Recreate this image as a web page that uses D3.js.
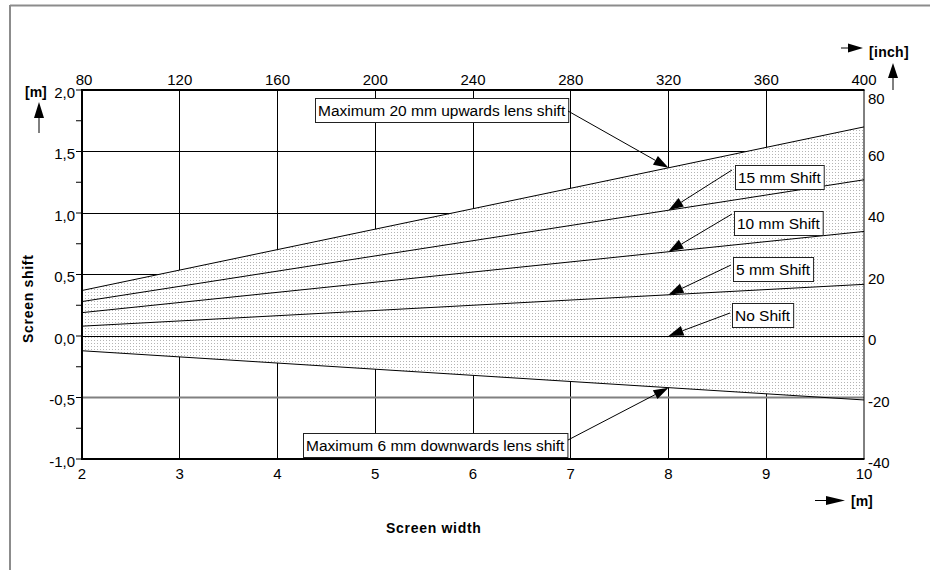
<!DOCTYPE html>
<html>
<head>
<meta charset="utf-8">
<script src="https://cdn.jsdelivr.net/npm/d3@7"></script>
<style>
  html, body { margin: 0; padding: 0; background: #fff; }
  svg { display: block; font-family: "Liberation Sans", Arial, sans-serif; }
</style>
</head>
<body>
<svg id="chart" width="930" height="570"></svg>
<script>
// ---------- data ----------
const widthsM = [2, 10];                       // screen width [m]
const up20   = [0.37, 1.70];                    // Maximum 20 mm upwards lens shift
const shift15 = [0.28, 1.27];                   // 15 mm Shift
const shift10 = [0.19, 0.85];                   // 10 mm Shift
const shift5  = [0.08, 0.42];                   // 5 mm Shift
const shift0  = [0.00, 0.00];                   // No Shift
const down6   = [-0.12, -0.52];                 // Maximum 6 mm downwards lens shift

const bottomTicks = [2, 3, 4, 5, 6, 7, 8, 9, 10];
const topTicks    = [80, 120, 160, 200, 240, 280, 320, 360, 400];
const leftTicks   = [-1.0, -0.5, 0.0, 0.5, 1.0, 1.5, 2.0];
const leftMinor   = [-0.75, -0.25, 0.25, 0.75, 1.25, 1.75];
const rightTicks  = [-40, -20, 0, 20, 40, 60, 80];
const annotLabels = ["Maximum 20 mm upwards lens shift", "15 mm Shift", "10 mm Shift", "5 mm Shift", "No Shift", "Maximum 6 mm downwards lens shift"];
const annotSeries = [up20, shift15, shift10, shift5, shift0, down6];
const annotAtX = 8;

// ---------- layout ----------
const L = 82, R = 864, T = 90, B = 459;
const svg = d3.select("#chart");
const x = d3.scaleLinear().domain([2, 10]).range([L, R]);
const y = d3.scaleLinear().domain([-1, 2]).range([B, T]);
const xIn = d3.scaleLinear().domain([80, 400]).range([L, R]);
const yIn = d3.scaleLinear().domain([-40, 80]).range([B, T]);
const fmt = d => d3.format(".1f")(d).replace(".", ",").replace("−", "-");

// box layout for annotations (pixel positions: box top-left, arrow start)
const annotLayout = [
  {bx: 315, by: 98,  sx: 568, sy: 111},
  {bx: 735, by: 165, sx: 732, sy: 170},
  {bx: 734, by: 211, sx: 732, sy: 214},
  {bx: 733, by: 257, sx: 731, sy: 265},
  {bx: 732, by: 303, sx: 730, sy: 313},
  {bx: 303, by: 433, sx: 568, sy: 440}
];

// pattern
const defs = svg.append("defs");
const pat = defs.append("pattern").attr("id", "dots").attr("width", 3).attr("height", 3)
  .attr("patternUnits", "userSpaceOnUse");
pat.append("rect").attr("width", 3).attr("height", 3).attr("fill", "#fff");
pat.append("rect").attr("x", 1).attr("y", 1).attr("width", 1).attr("height", 1).attr("fill", "#b4b4b4");

// outer frame (partial)
svg.append("line").attr("x1", 10).attr("y1", 5.5).attr("x2", 930).attr("y2", 5.5)
  .attr("stroke", "#8c8c8c").attr("stroke-width", 2);
svg.append("line").attr("x1", 10).attr("y1", 5).attr("x2", 10).attr("y2", 570)
  .attr("stroke", "#8c8c8c").attr("stroke-width", 2);

// grid
const grid = svg.append("g");
grid.selectAll("line.v").data(bottomTicks.filter(d => d > 2 && d < 10)).join("line")
  .attr("x1", d => x(d)).attr("x2", d => x(d)).attr("y1", T).attr("y2", B)
  .attr("stroke", "#000").attr("stroke-width", 1).attr("shape-rendering", "crispEdges");
grid.selectAll("line.h").data(leftTicks.filter(d => d > -1 && d < 2 && d !== -0.5)).join("line")
  .attr("x1", L).attr("x2", R).attr("y1", d => y(d)).attr("y2", d => y(d))
  .attr("stroke", "#000").attr("stroke-width", 1).attr("shape-rendering", "crispEdges");

// shaded area
const area = d3.area().x((d, i) => x(widthsM[i])).y0((d, i) => y(down6[i])).y1(d => y(d));
svg.append("path").datum(up20).attr("d", area).attr("fill", "url(#dots)");

// -0.5 gray line
svg.append("line").attr("x1", L).attr("x2", R).attr("y1", y(-0.5)).attr("y2", y(-0.5))
  .attr("stroke", "#808080").attr("stroke-width", 2);

// series lines
const line = d3.line().x((d, i) => x(widthsM[i])).y(d => y(d));
svg.selectAll("path.series").data([up20, shift15, shift10, shift5, shift0, down6]).join("path")
  .attr("class", "series").attr("d", line).attr("fill", "none")
  .attr("stroke", "#000").attr("stroke-width", 1)
  .attr("shape-rendering", d => d[0] === d[d.length - 1] ? "crispEdges" : null);

// plot frame
svg.append("line").attr("x1", R).attr("x2", R).attr("y1", T).attr("y2", B).attr("stroke", "#000").attr("stroke-width", 1);
svg.append("line").attr("x1", L - 1).attr("x2", R + 0.5).attr("y1", T).attr("y2", T).attr("stroke", "#000").attr("stroke-width", 2);
svg.append("line").attr("x1", L - 1).attr("x2", R + 0.5).attr("y1", B).attr("y2", B).attr("stroke", "#000").attr("stroke-width", 2);
svg.append("line").attr("x1", L).attr("x2", L).attr("y1", T).attr("y2", B).attr("stroke", "#000").attr("stroke-width", 2);

// left ticks
svg.selectAll("line.lt").data(leftTicks.concat(leftMinor)).join("line")
  .attr("x1", L - 6).attr("x2", L).attr("y1", d => y(d)).attr("y2", d => y(d))
  .attr("stroke", "#000").attr("stroke-width", 1);

const tickFont = "15px";
svg.selectAll("text.lt").data(leftTicks).join("text")
  .attr("x", L - 7).attr("y", d => y(d) + 7.5).attr("text-anchor", "end")
  .attr("font-size", tickFont).text(d => fmt(d));
svg.selectAll("text.bt").data(bottomTicks).join("text")
  .attr("x", d => x(d)).attr("y", 479).attr("text-anchor", "middle")
  .attr("font-size", tickFont).text(d => d);
svg.selectAll("text.tt").data(topTicks).join("text")
  .attr("x", d => xIn(d) + (d === 80 ? 2 : 0)).attr("y", 85).attr("text-anchor", "middle")
  .attr("font-size", tickFont).text(d => d);
svg.selectAll("text.rt").data(rightTicks).join("text")
  .attr("x", R + 4).attr("y", d => yIn(d) + (d === 80 ? 14 : 9)).attr("text-anchor", "start")
  .attr("font-size", tickFont).text(d => String(d));

// arrow helper
function arrow(x1, y1, x2, y2, len, hw) {
  const a = Math.atan2(y2 - y1, x2 - x1);
  const bx = x2 - len * Math.cos(a), by = y2 - len * Math.sin(a);
  svg.append("line").attr("x1", x1).attr("y1", y1).attr("x2", bx).attr("y2", by)
    .attr("stroke", "#000").attr("stroke-width", 1);
  const px = -Math.sin(a) * hw, py = Math.cos(a) * hw;
  svg.append("polygon")
    .attr("points", [[x2, y2], [bx + px, by + py], [bx - px, by - py]].map(p => p.join(",")).join(" "))
    .attr("fill", "#000");
}

// axis unit labels
const boldStyle = s => s.attr("font-weight", "bold").attr("font-size", "14px");
svg.append("text").attr("x", 25).attr("y", 97).text("[m]").call(boldStyle);
arrow(39, 133, 39, 102, 16, 5);
svg.append("text").attr("x", 869).attr("y", 57).attr("letter-spacing", "0.3px").text("[inch]").call(boldStyle);
arrow(841, 48, 863, 48, 15, 4.5);
arrow(893, 90, 893, 63, 15, 5);
svg.append("text").attr("x", 851).attr("y", 506).text("[m]").call(boldStyle);
arrow(815, 500.5, 845, 500.5, 19, 4.5);

svg.append("text").attr("x", 386).attr("y", 533).attr("letter-spacing", "0.7px").text("Screen width").call(boldStyle);
svg.append("text").attr("transform", "translate(33,343) rotate(-90)").attr("letter-spacing", "0.7px")
  .text("Screen shift").call(boldStyle);

// annotations
annotLabels.forEach((lab, i) => {
  const s = annotSeries[i];
  const v = d3.scaleLinear().domain(widthsM).range(s)(annotAtX);
  const lay = annotLayout[i];
  const g = svg.append("g");
  const rect = g.append("rect");
  const t = g.append("text").attr("x", lay.bx + 3).attr("y", lay.by + 18)
    .attr("font-size", "15.5px").text(lab);
  const w = t.node().getComputedTextLength();
  rect.attr("x", lay.bx + 0.5).attr("y", lay.by + 0.5).attr("width", w + 6).attr("height", 24)
    .attr("fill", "#fff").attr("stroke", "#222").attr("stroke-width", 1);
  arrow(lay.sx, lay.sy, x(annotAtX), y(v), 15, 5);
});
</script>
</body>
</html>
